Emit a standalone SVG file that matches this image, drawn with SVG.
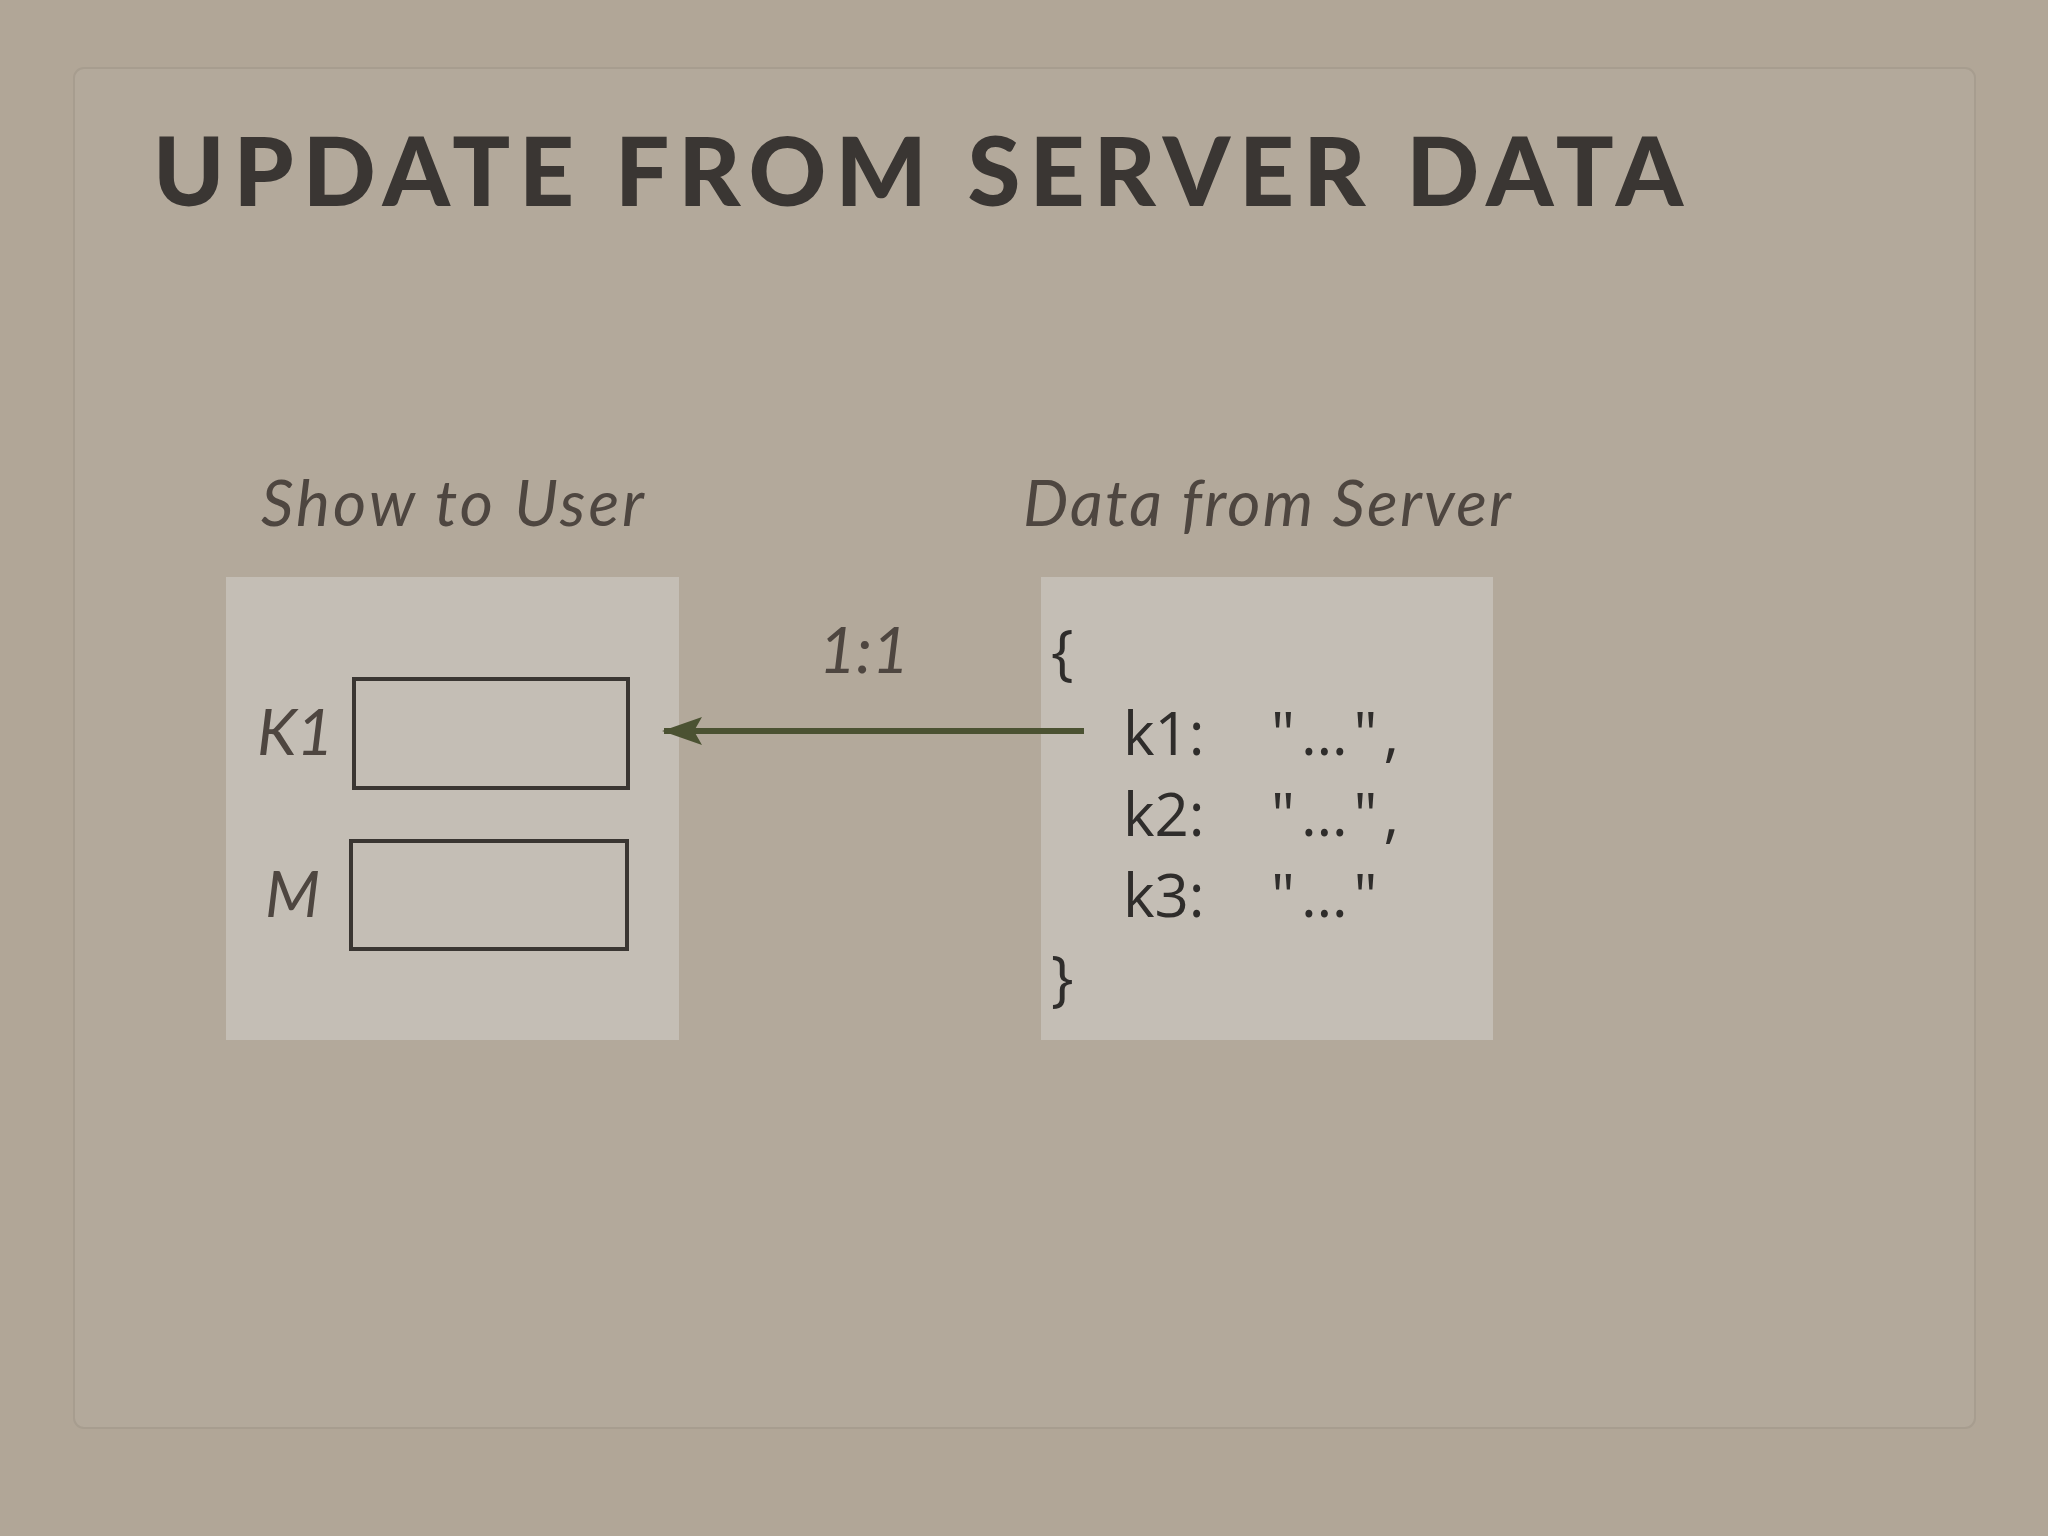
<svg xmlns="http://www.w3.org/2000/svg" width="2048" height="1536" viewBox="0 0 2048 1536">
<defs>
<style>
.lbl{font-family:"Lato","Liberation Sans",sans-serif;font-style:italic;fill:#4e4640;font-size:64px}
.code{font-family:"Open Sans","Liberation Sans",sans-serif;fill:#2f2d2b;font-size:60px}
.box{fill:#c4beb5}
.fld{fill:none;stroke:#3a3632;stroke-width:4}
</style>
<marker id="ah" markerWidth="40" markerHeight="40" refX="38" refY="20" orient="auto" markerUnits="userSpaceOnUse" viewBox="0 0 40 40"><path d="M0,6 L40,20 L0,34 L8,20 Z" fill="#4b5232"/></marker>
</defs>
<rect width="2048" height="1536" fill="#b1a697"/>
<rect x="74" y="68" width="1901" height="1360" rx="10" fill="#b3a99b" stroke="#a79d8f" stroke-width="2"/>
<text x="153" y="206" font-family="Lato,'Liberation Sans',sans-serif" font-weight="900" font-size="96" letter-spacing="9" fill="#3a3633">UPDATE FROM SERVER DATA</text>
<g id="left">
<rect class="box" x="226" y="577" width="453" height="463"/>
<text class="lbl" x="261" y="526" textLength="383" lengthAdjust="spacing">Show to User</text>
<text class="lbl" x="257" y="755">K1</text>
<rect class="fld" x="354" y="679" width="274" height="109"/>
<text class="lbl" x="265" y="917">M</text>
<rect class="fld" x="351" y="841" width="276" height="108"/>
</g>
<g id="right">
<rect class="box" x="1041" y="577" width="452" height="463"/>
<text class="lbl" x="1023" y="526" textLength="488" lengthAdjust="spacing">Data from Server</text>
<text class="code" x="1051" y="673">{</text>
<text class="code" x="1123" y="755">k1:</text><text class="code" x="1271" y="755" letter-spacing="6">"…",</text>
<text class="code" x="1123" y="836">k2:</text><text class="code" x="1271" y="836" letter-spacing="6">"…",</text>
<text class="code" x="1123" y="917">k3:</text><text class="code" x="1271" y="917" letter-spacing="6">"…"</text>
<text class="code" x="1051" y="999">}</text>
</g>
<g id="connectors">
<line x1="1084" y1="731" x2="664" y2="731" stroke="#4b5232" stroke-width="6" marker-end="url(#ah)"/>
<text class="lbl" x="819" y="673">1:1</text>
</g>
</svg>
